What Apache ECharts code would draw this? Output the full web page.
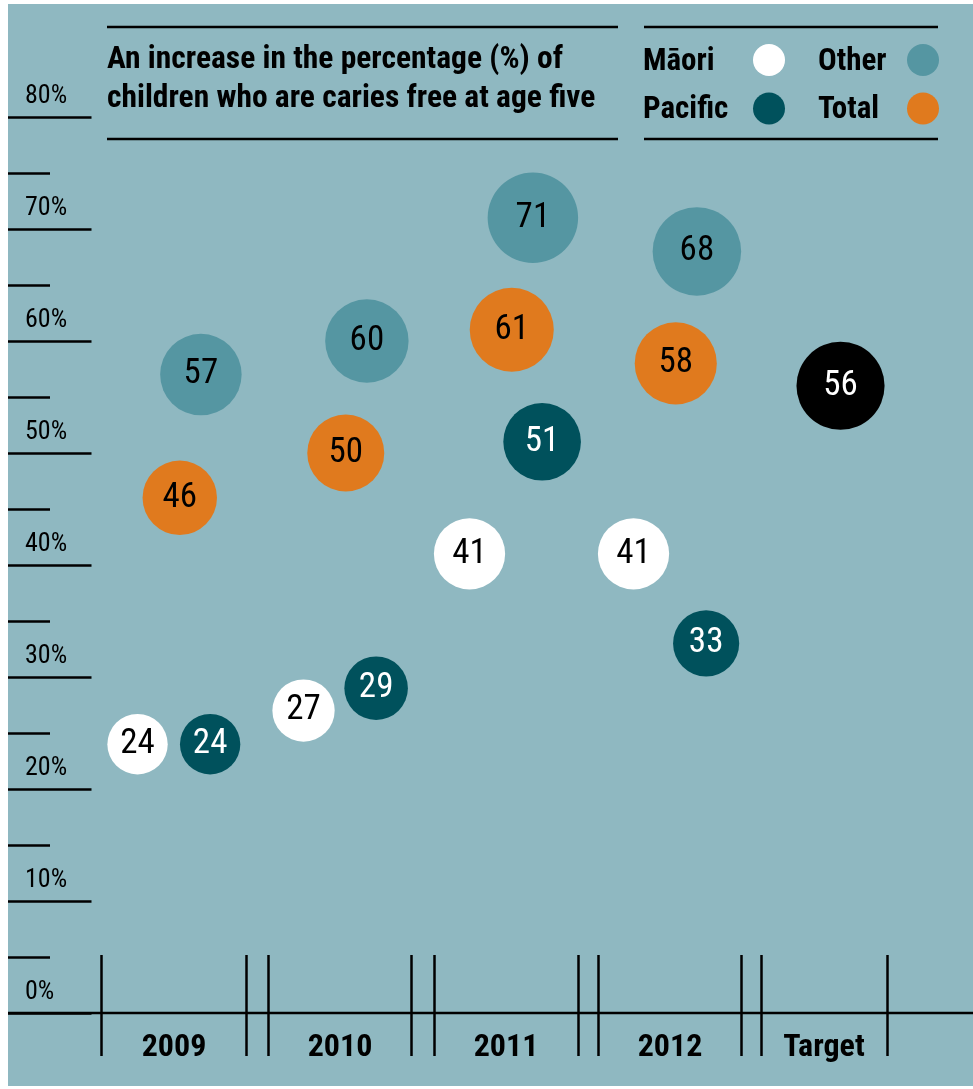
<!DOCTYPE html>
<html>
<head>
<meta charset="utf-8">
<script src="https://cdn.jsdelivr.net/npm/echarts@6/dist/echarts.min.js"></script>
<style>
  html, body { margin: 0; padding: 0; background: #ffffff; }
  #chart { width: 973px; height: 1089px; }
</style>
</head>
<body>
<div id="chart"></div>
<script>
// ---- data ----
const categories = ['2009', '2010', '2011', '2012', 'Target'];
const maori   = [24, 27, 41, 41];
const pacific = [24, 29, 51, 33];
const other   = [57, 60, 71, 68];
const total   = [46, 50, 61, 58];
const target  = [56];
const yTicks  = [0, 10, 20, 30, 40, 50, 60, 70, 80];
const yMinorTicks = [5, 15, 25, 35, 45, 55, 65, 75];
const titleText = 'An increase in the percentage (%) of\nchildren who are caries free at age five';

// ---- layout (axis units: one category column per unit) ----
const colEdges = [[-0.436, 0.436], [0.570, 1.442], [1.576, 2.448], [2.570, 3.442], [3.564, 4.315]];
const colCenter = colEdges.map(e => (e[0] + e[1]) / 2);
const FONT = "'Roboto Condensed', Roboto, sans-serif";
const STRETCH = 'condensed';
const BG = '#8fb8c1';

const chart = echarts.init(document.getElementById('chart'));

function bubbleSeries(name, values, color, labelColor, offset, sizeFactor, catStart) {
  return {
    type: 'scatter',
    name: name,
    xAxisIndex: 0, yAxisIndex: 0,
    data: values.map((v, i) => [colCenter[catStart + i] + offset, v]),
    symbol: 'circle',
    symbolSize: d => (45 + 0.64 * d[1]) * sizeFactor,
    itemStyle: { color: color, opacity: 1 },
    label: {
      show: true, position: 'inside',
      formatter: p => String(p.value[1]),
      fontFamily: FONT, fontStyle: STRETCH, fontSize: 35, color: labelColor
    },
    emphasis: { disabled: true },
    z: 3
  };
}

function tickSeries(name, xIdx, yIdx, values) {
  return {
    type: 'scatter', name: name, xAxisIndex: xIdx, yAxisIndex: yIdx,
    data: [[0, 0]], symbolSize: 0, silent: true,
    markLine: {
      silent: true, symbol: ['none', 'none'], label: { show: false },
      lineStyle: { color: '#000', width: 2.5, type: 'solid', opacity: 1 },
      emphasis: { disabled: true },
      data: values.map(v => ({ yAxis: v }))
    }
  };
}

function legendBlock(names, left, textWidth) {
  return {
    data: names, left: left, top: 44,
    orient: 'vertical', align: 'right', icon: 'circle',
    itemWidth: 32, itemHeight: 32, itemGap: 15, padding: 0,
    selectedMode: false,
    formatter: '{t|{name}}',
    textStyle: {
      rich: { t: { width: textWidth, align: 'left', padding: [4, 0, 0, 0], fontFamily: FONT, fontStyle: STRETCH, fontSize: 31, fontWeight: 'bold', color: '#000' } }
    }
  };
}

chart.setOption({
  animation: false,
  backgroundColor: '#ffffff',
  title: {
    text: titleText, left: 107, top: 41, padding: 0,
    textStyle: { fontFamily: FONT, fontStyle: STRETCH, fontSize: 31.5, fontWeight: 'bold', lineHeight: 39, color: '#000' }
  },
  legend: [
    legendBlock(['Māori', 'Pacific'], 643, 105),
    legendBlock(['Other', 'Total'], 818, 84)
  ],
  graphic: [
    { type: 'rect', z: -10, silent: true, shape: { x: 8, y: 4, width: 965, height: 1082 }, style: { fill: BG } },
    { type: 'line', silent: true, shape: { x1: 107, y1: 27, x2: 618, y2: 27 }, style: { stroke: '#000', lineWidth: 2.5 } },
    { type: 'line', silent: true, shape: { x1: 107, y1: 139, x2: 618, y2: 139 }, style: { stroke: '#000', lineWidth: 2.5 } },
    { type: 'line', silent: true, shape: { x1: 644, y1: 27, x2: 938, y2: 27 }, style: { stroke: '#000', lineWidth: 2.5 } },
    { type: 'line', silent: true, shape: { x1: 644, y1: 139, x2: 938, y2: 139 }, style: { stroke: '#000', lineWidth: 2.5 } },
    { type: 'line', silent: true, shape: { x1: 8, y1: 1013, x2: 973, y2: 1013 }, style: { stroke: '#000', lineWidth: 2.5 } }
  ],
  grid: [
    { left: 91.5, width: 825, top: 5, height: 1008 },   // bubbles
    { left: 91.5, width: 825, top: 955, height: 101 },  // category strip
    { left: 8, width: 83.5, top: 5, height: 1008 },     // major y ticks
    { left: 8, width: 42, top: 5, height: 1008 }        // minor y ticks
  ],
  xAxis: [
    { gridIndex: 0, type: 'value', min: -0.5, max: 4.5, show: false },
    { gridIndex: 1, type: 'value', min: -0.5, max: 4.5, show: false },
    { gridIndex: 2, type: 'value', min: 0, max: 1, show: false },
    { gridIndex: 3, type: 'value', min: 0, max: 1, show: false }
  ],
  yAxis: [
    {
      gridIndex: 0, type: 'value', min: 0, max: 90, interval: 10, position: 'left',
      axisLine: { show: false }, splitLine: { show: false }, axisTick: { show: false },
      axisLabel: {
        show: true, customValues: yTicks, formatter: '{value}%',
        align: 'left', margin: 66.5, verticalAlign: 'bottom', lineHeight: 26, padding: [0, 0, 8, 0],
        fontFamily: FONT, fontStyle: STRETCH, fontSize: 26, color: '#000'
      }
    },
    { gridIndex: 1, type: 'value', min: 0, max: 1, show: false },
    { gridIndex: 2, type: 'value', min: 0, max: 90, show: false },
    { gridIndex: 3, type: 'value', min: 0, max: 90, show: false }
  ],
  series: [
    bubbleSeries('Māori', maori, '#ffffff', '#000000', -0.221, 1, 0),
    bubbleSeries('Pacific', pacific, '#00515c', '#ffffff', 0.219, 1, 0),
    bubbleSeries('Other', other, '#5596a2', '#000000', 0.163, 1, 0),
    bubbleSeries('Total', total, '#e07a1e', '#000000', 0.035, 1, 0),
    bubbleSeries('Target', target, '#000000', '#ffffff', 0.1, 1.09, 4),
    {
      type: 'scatter', name: 'categories',
      xAxisIndex: 1, yAxisIndex: 1,
      data: categories.map((c, i) => ({ name: c, value: [colCenter[i], 0.08] })),
      symbolSize: 0, itemStyle: { color: '#000', opacity: 1 },
      label: { show: true, position: 'inside', formatter: '{b}', fontFamily: FONT, fontStyle: STRETCH, fontSize: 32, fontWeight: 'bold', color: '#000', textBorderWidth: 0 },
      emphasis: { disabled: true }, silent: true,
      markLine: {
        silent: true, symbol: ['none', 'none'], label: { show: false },
        lineStyle: { color: '#000', width: 2.5, type: 'solid', opacity: 1 },
        emphasis: { disabled: true },
        data: colEdges.flat().map(v => ({ xAxis: v }))
      }
    },
    tickSeries('majorTicks', 2, 2, yTicks),
    tickSeries('minorTicks', 3, 3, yMinorTicks)
  ]
});
</script>
</body>
</html>
